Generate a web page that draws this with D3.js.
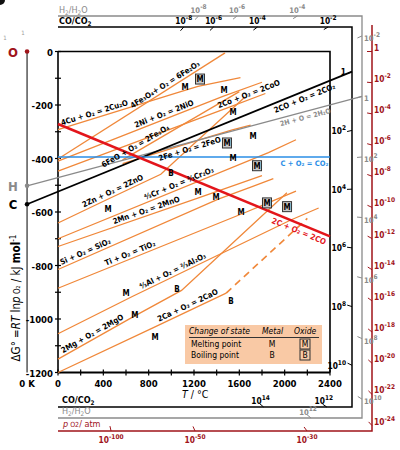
<!DOCTYPE html>
<html><head><meta charset="utf-8">
<script src="https://cdn.jsdelivr.net/npm/d3@7/dist/d3.min.js"></script>
<style>body{margin:0;background:#fff}svg{display:block}text{font-family:"DejaVu Sans Condensed","DejaVu Sans",sans-serif}</style>
</head><body><svg id="c" width="400" height="450"></svg>
<script>
// ---------- data ----------
const tempTicks = [0,200,400,600,800,1000,1200,1400,1600,1800,2000,2200,2400];
const tempLabels = [0,400,800,1200,1600,2000,2400];
const gTicks = [0,-100,-200,-300,-400,-500,-600,-700,-800,-900,-1000,-1100,-1200];
const gLabels = [0,-200,-400,-600,-800,-1000,-1200];

const cuLine   = [[0,-292],[1083,-150],[1235,-130],[1610,-98]];
const fe3o4Line= [[0,-402],[1474,-5]];
const niLine   = [[0,-410],[1455,-168],[1800,-115]];
const coLine   = [[0,-447],[1495,-211],[1830,-157]];
const feoLine  = [[570,-405],[1600,-150]];
const feLine   = [[570,-419],[1377,-314],[1538,-293],[1700,-275]];
const znLine   = [[0,-641],[420,-556],[907,-459],[1650,-170]];
const crLine   = [[0,-700],[1857,-378],[2100,-330]];
const mnLine   = [[0,-729],[1246,-546],[1800,-464]];
const siLine   = [[0,-815],[1414,-552],[1713,-505],[1900,-475]];
const tiLine   = [[0,-885],[1668,-599],[1843,-568],[2100,-522]];
const alLine   = [[0,-1055],[660,-915],[2054,-630],[2300,-585]];
const mgLine   = [[0,-1150],[650,-995],[1090,-893],[2020,-528]];
const caLine   = [[0,-1200],[842,-1032],[1484,-903]];
const caGasLine= [[1484,-903],[2200,-624]];
const cCOLine  = [[0,-271],[2400,-691]];
const cCO2Line = [[0,-394],[2400,-394]];
const coCO2Line= [[-273,-571],[2400,-109]];
const h2H2OLine= [[-273,-502],[2400,-200]];

const meltMetal = [[1121,-133],[1465,-144],[1544,-226],[1721,-315],[1544,-398],[441,-588],[1235,-524],[1394,-543],[1615,-599],[600,-901],[679,-984],[856,-1066]];
const meltOxide = [[1253,-103],[1491,-342],[1756,-427],[1844,-566],[2021,-580]];
const boilMetal = [[997,-454],[1050,-887],[1527,-931]];

const pO2Exps  = [0,-2,-4,-6,-8,-10,-12,-14,-16,-18,-20,-22,-24,-30,-50,-100];
const coExps   = [-8,-6,-4,-2,0,2,4,6,8,10,12,14];
const h2Exps   = [-8,-6,-4,-2,0,2,4,6,8,10,12];

// ---------- scales ----------
const svg = d3.select('#c');
svg.append('rect').attr('width',400).attr('height',450).attr('fill','#fff');
const X = d3.scaleLinear().domain([0,2400]).range([58,330]);
const Y = d3.scaleLinear().domain([0,-1200]).range([51.5,372.5]);
const kx = X(1)-X(0), ky = Y(-1)-Y(0);
const ORANGE='#f0883a', RED='#e3151b', BLUE='#2a8ee6', DRED='#a0141a', GRAY='#8a8a8a';

svg.append('circle').attr('cx',0).attr('cy',0).attr('r',5).attr('fill','#111');

svg.append('path').attr('d',`M${X(0)},${Y(0)}H${X(2400)}V${Y(-1200)}`).attr('fill','none').attr('stroke','#000').attr('stroke-width',1.6);
svg.append('line').attr('x1',X(-273)).attr('x2',X(-273)).attr('y1',Y(0)).attr('y2',Y(-1200)).attr('stroke','#000').attr('stroke-width',1);

const gx = svg.append('g').attr('transform',`translate(0,${Y(-1200)})`);
gx.append('line').attr('x1',X(0)).attr('x2',X(2400)).attr('stroke','#000').attr('stroke-width',2);
tempTicks.forEach(t=>gx.append('line').attr('x1',X(t)).attr('x2',X(t)).attr('y1',-3).attr('y2',3).attr('stroke','#000').attr('stroke-width',1.2));
tempLabels.forEach(t=>gx.append('text').attr('x',X(t)).attr('y',14.5).attr('text-anchor','middle').attr('font-size',9.5).attr('font-weight','bold').text(t));
const gy = svg.append('g').attr('transform',`translate(${X(0)},0)`);
gy.append('line').attr('y1',Y(0)).attr('y2',Y(-1200)).attr('stroke','#000').attr('stroke-width',1.6);
gTicks.forEach(g=>gy.append('line').attr('x1',-3).attr('x2',3).attr('y1',Y(g)).attr('y2',Y(g)).attr('stroke','#000').attr('stroke-width',1.2));
gLabels.forEach(g=>gy.append('text').attr('x',-5).attr('y',Y(g)+4).attr('text-anchor','end').attr('font-size',9.5).attr('font-weight','bold').text(g));
svg.append('text').attr('x',X(-273)).attr('y',Y(-1200)+14.5).attr('text-anchor','middle').attr('font-size',9.5).attr('font-weight','bold').text('0 K');
const tl = svg.append('text').attr('x',182).attr('y',398).attr('font-size',10.5);
tl.append('tspan').attr('font-style','italic').text('T');tl.append('tspan').text(' / °C');

const yl = svg.append('text').attr('transform','translate(20,298) rotate(-90)').attr('text-anchor','middle').attr('font-size',11.5);
yl.append('tspan').text('ΔG° =');yl.append('tspan').attr('font-style','italic').text('RT');yl.append('tspan').text(' ln');
yl.append('tspan').attr('font-style','italic').text('p');yl.append('tspan').attr('font-size',8).text(' O₂');yl.append('tspan').text(' / kJ ');
yl.append('tspan').attr('font-weight','bold').text('mol');yl.append('tspan').attr('dy',-4).attr('font-size',8).text('-1');

// ---------- reaction lines ----------
const lineGen = d3.line().x(d=>X(d[0])).y(d=>Y(d[1]));
const orangeLines=[cuLine,fe3o4Line,niLine,coLine,feoLine,feLine,znLine,crLine,mnLine,siLine,tiLine,alLine,mgLine,caLine];
orangeLines.forEach(l=>svg.append('path').attr('d',lineGen(l)).attr('fill','none').attr('stroke',ORANGE).attr('stroke-width',1.3));
svg.append('path').attr('d',lineGen(caGasLine)).attr('fill','none').attr('stroke',ORANGE).attr('stroke-width',1.6).attr('stroke-dasharray','7,5');

const frames = {
  co:{top:27,right:352,bottom:407},
  h2:{top:16,right:362,bottom:418},
  o2:{top:25,right:372,bottom:431}
};
function hit(f,ox,oy,dx,dy){
  let t=(f.right-ox)/dx, y=oy+t*dy;
  if(y>=f.top && y<=f.bottom) return {x:f.right,y:y,side:'right',dx,dy};
  t = dy<0 ? (f.top-oy)/dy : (f.bottom-oy)/dy;
  return {x:ox+t*dx,y:oy+t*dy,side:dy<0?'top':'bottom',dx,dy};
}
const R=0.008314, LN10=Math.log(10);
function slopeOf(l){return (l[1][1]-l[0][1])/(l[1][0]-l[0][0]);}
function extendLine(l,f){const s=slopeOf(l);return hit(f,X(l[0][0]),Y(l[0][1]),kx,-s*ky);}

svg.append('path').attr('d',`M${X(0)},${frames.co.top}H${frames.co.right}V${frames.co.bottom}H${X(0)}`).attr('fill','none').attr('stroke','#000').attr('stroke-width',1.5);
svg.append('path').attr('d',`M${X(0)},${frames.h2.top}H${frames.h2.right}V${frames.h2.bottom}H${X(0)}`).attr('fill','none').attr('stroke',GRAY).attr('stroke-width',1.3);
svg.append('path').attr('d',`M${frames.o2.right},${frames.o2.top}V${frames.o2.bottom}H${X(0)}`).attr('fill','none').attr('stroke',DRED).attr('stroke-width',1.5);

const hH = extendLine(h2H2OLine,frames.h2);
svg.append('line').attr('x1',X(-273)).attr('y1',Y(h2H2OLine[0][1])).attr('x2',hH.x).attr('y2',hH.y).attr('stroke',GRAY).attr('stroke-width',1.3);
const hC = extendLine(coCO2Line,frames.co);
svg.append('line').attr('x1',X(-273)).attr('y1',Y(coCO2Line[0][1])).attr('x2',hC.x).attr('y2',hC.y).attr('stroke','#000').attr('stroke-width',1.8);
svg.append('path').attr('d',lineGen(cCO2Line)).attr('stroke',BLUE).attr('stroke-width',1.5).attr('fill','none');
svg.append('path').attr('d',lineGen(cCOLine)).attr('stroke',RED).attr('stroke-width',2.5).attr('fill','none');

function pow10(sel,e){ if(e===0){sel.text('1');return;} sel.append('tspan').text('10'); sel.append('tspan').attr('dy',-4).attr('font-size',6.5).text(e<0?'-'+(-e):e); }

function scale(exps,f,origin,slopeFn,color,opts){
  exps.forEach(e=>{
    const s=slopeFn(e);
    const h=hit(f,X(-273),Y(origin),kx,-s*ky);
    const L=Math.hypot(h.dx,h.dy), ux=h.dx/L, uy=h.dy/L;
    svg.append('line').attr('x1',h.x).attr('y1',h.y).attr('x2',h.x-ux*5).attr('y2',h.y-uy*5).attr('stroke',color).attr('stroke-width',1);
    let tx,ty,anchor;
    if(h.side==='right'){ if(opts.rightIn){tx=h.x-6;anchor='end';} else {tx=h.x+2;anchor='start';} ty=h.y+opts.rightDy; }
    else if(h.side==='top'){ tx=h.x; ty=h.y-opts.topOff; anchor='middle'; }
    else { if(opts.bottomOut){tx=h.x;ty=h.y+12;} else {tx=h.x-3;ty=h.y-3;} anchor='middle'; }
    const t=svg.append('text').attr('x',tx).attr('y',ty).attr('text-anchor',anchor).attr('font-size',opts.fs).attr('font-weight','bold').attr('fill',color);
    pow10(t,e);
  });
}
scale(pO2Exps,frames.o2,0,e=>R*e*LN10,DRED,{rightIn:false,topOff:3,bottomOut:true,rightDy:-1,fs:8.3});
scale(coExps,frames.co,coCO2Line[0][1],e=>slopeOf(coCO2Line)-2*R*e*LN10,'#000',{rightIn:true,topOff:3,bottomOut:false,rightDy:3.5,fs:8.3});
scale(h2Exps,frames.h2,h2H2OLine[0][1],e=>slopeOf(h2H2OLine)-2*R*e*LN10,GRAY,{rightIn:false,topOff:3,bottomOut:false,rightDy:5,fs:7.6});

function lab(x,y,parts,color,size,weight){const t=svg.append('text').attr('x',x).attr('y',y).attr('font-size',size).attr('font-weight',weight||'bold').attr('fill',color);
  parts.forEach(p=>{const s=t.append('tspan').text(p[0]); if(p[1]==='sub'){s.attr('font-size',size*0.7).attr('dy',2);} else if(p[1]==='up'){s.attr('dy',-2);} }); return t;}
lab(59,24,[['CO/CO'],['2','sub'],['','up']],'#000',9);
lab(59,13,[['H'],['2','sub'],['/H','up'],['2','sub'],['O','up']],GRAY,9,'normal');
lab(62,403,[['CO/CO'],['2','sub']],'#000',9);
lab(62,414,[['H'],['2','sub'],['/H','up'],['2','sub'],['O','up']],GRAY,9,'normal');
const pl=svg.append('text').attr('x',63).attr('y',427).attr('font-size',9).attr('fill',DRED);
pl.append('tspan').attr('font-style','italic').text('p');pl.append('tspan').attr('font-size',7).text(' O2');pl.append('tspan').text('/ atm');

[[0,'O',DRED],[h2H2OLine[0][1],'H',GRAY],[coCO2Line[0][1],'C','#000']].forEach(p=>{
  svg.append('circle').attr('cx',X(-273)).attr('cy',Y(p[0])).attr('r',2.3).attr('fill',p[2]);
  svg.append('text').attr('x',13).attr('y',Y(p[0])+5).attr('text-anchor','middle').attr('font-size',13).attr('font-weight','bold').attr('fill',p[2]).text(p[1]);
});
svg.append('text').attr('x',5).attr('y',40).attr('font-size',6).attr('fill','#999').attr('text-anchor','middle').text('1');
svg.append('text').attr('x',23).attr('y',35).attr('font-size',6).attr('fill','#999').attr('text-anchor','middle').text('1');

// ---------- line labels ----------
function at(l,T){for(let i=0;i<l.length-1;i++){const a=l[i],b=l[i+1]; if(T>=a[0]&&T<=b[0]||i===l.length-2){const f=(T-a[0])/(b[0]-a[0]);return {x:X(T),y:Y(a[1]+f*(b[1]-a[1])),ang:Math.atan2(Y(b[1])-Y(a[1]),X(b[0])-X(a[0]))};}}}
function lineLabel(l,T,off,txt,color,size){
  const p=at(l,T); const nx=Math.sin(p.ang), ny=-Math.cos(p.ang);
  const cx=p.x+nx*off, cy=p.y+ny*off;
  svg.append('text').attr('transform',`translate(${cx},${cy}) rotate(${p.ang*180/Math.PI})`).attr('text-anchor','middle').attr('dy','0.35em')
   .attr('font-size',size||7.8).attr('font-weight','bold').attr('fill',color||'#000').text(txt);
}
lineLabel(cuLine,335,5.5,'4Cu + O₂ = 2Cu₂O');
lineLabel(fe3o4Line,970,5.5,'4Fe₃O₄+ O₂ = 6Fe₂O₃');
lineLabel(niLine,953,5.5,'2Ni + O₂ = 2NiO');
lineLabel(feoLine,706,5.5,'6FeO + O₂ = 2Fe₃O₄');
lineLabel(feLine,1147,-5.5,'2Fe + O₂ = 2FeO');
lineLabel(coLine,1700,5.5,'2Co + O₂ = 2CoO');
lineLabel(coCO2Line,2153,-6.5,'2CO + O₂ = 2CO₂');
lineLabel(h2H2OLine,2170,-5.5,'2H + O = 2H₂O',GRAY,7);
lineLabel(cCO2Line,2175,-6,'C + O₂ = CO₂',BLUE,7.5);
lineLabel(znLine,503,5.5,'2Zn + O₂ = 2ZnO');
lineLabel(crLine,1085,5.5,'⁴⁄₃Cr + O₂ = ²⁄₃Cr₂O₃');
lineLabel(mnLine,794,5.5,'2Mn + O₂ = 2MnO');
lineLabel(siLine,260,5.5,'Si + O₂ = SiO₂');
lineLabel(tiLine,653,5.5,'Ti + O₂ = TiO₂');
lineLabel(alLine,1032,5.5,'⁴⁄₃Al + O₂ = ²⁄₃Al₂O₃');
lineLabel(mgLine,326,5.5,'2Mg + O₂ = 2MgO');
lineLabel(caLine,1165,5.5,'2Ca + O₂ = 2CaO');
lineLabel(cCOLine,2150,-7,'2C + O₂ = 2CO',RED,8);

function mark(T,G,ch,boxed){
  const x=X(T),y=Y(G);
  if(boxed) svg.append('rect').attr('x',x-4.5).attr('y',y-5).attr('width',9).attr('height',10).attr('fill','#c8c8c8').attr('stroke','#333').attr('stroke-width',1);
  svg.append('text').attr('x',x).attr('y',y+3).attr('text-anchor','middle').attr('font-size',8).attr('font-weight','bold').text(ch);
}
meltMetal.forEach(d=>mark(d[0],d[1],'M',false));
meltOxide.forEach(d=>mark(d[0],d[1],'M',true));
boilMetal.forEach(d=>mark(d[0],d[1],'B',false));

const lg=svg.append('g');
lg.append('rect').attr('x',185).attr('y',325).attr('width',137).attr('height',39).attr('fill','#f9c9a5');
lg.append('text').attr('x',189).attr('y',334).attr('font-size',8.5).attr('font-style','italic').text('Change of state');
lg.append('text').attr('x',262).attr('y',334).attr('font-size',8.5).attr('font-style','italic').text('Metal');
lg.append('text').attr('x',294).attr('y',334).attr('font-size',8.5).attr('font-style','italic').text('Oxide');
lg.append('line').attr('x1',189).attr('x2',319).attr('y1',337.5).attr('y2',337.5).attr('stroke','#333').attr('stroke-width',1);
lg.append('text').attr('x',191).attr('y',347).attr('font-size',8.5).text('Melting point');
lg.append('text').attr('x',191).attr('y',358).attr('font-size',8.5).text('Boiling point');
lg.append('text').attr('x',272).attr('y',347).attr('font-size',8.5).attr('text-anchor','middle').text('M');
lg.append('text').attr('x',272).attr('y',358).attr('font-size',8.5).attr('text-anchor','middle').text('B');
lg.append('rect').attr('x',300).attr('y',339).attr('width',10).attr('height',10).attr('fill','none').attr('stroke','#333');
lg.append('rect').attr('x',300).attr('y',350).attr('width',10).attr('height',10).attr('fill','none').attr('stroke','#333');
lg.append('text').attr('x',305).attr('y',347).attr('font-size',8.5).attr('text-anchor','middle').text('M');
lg.append('text').attr('x',305).attr('y',358).attr('font-size',8.5).attr('text-anchor','middle').text('B');
</script></body></html>
